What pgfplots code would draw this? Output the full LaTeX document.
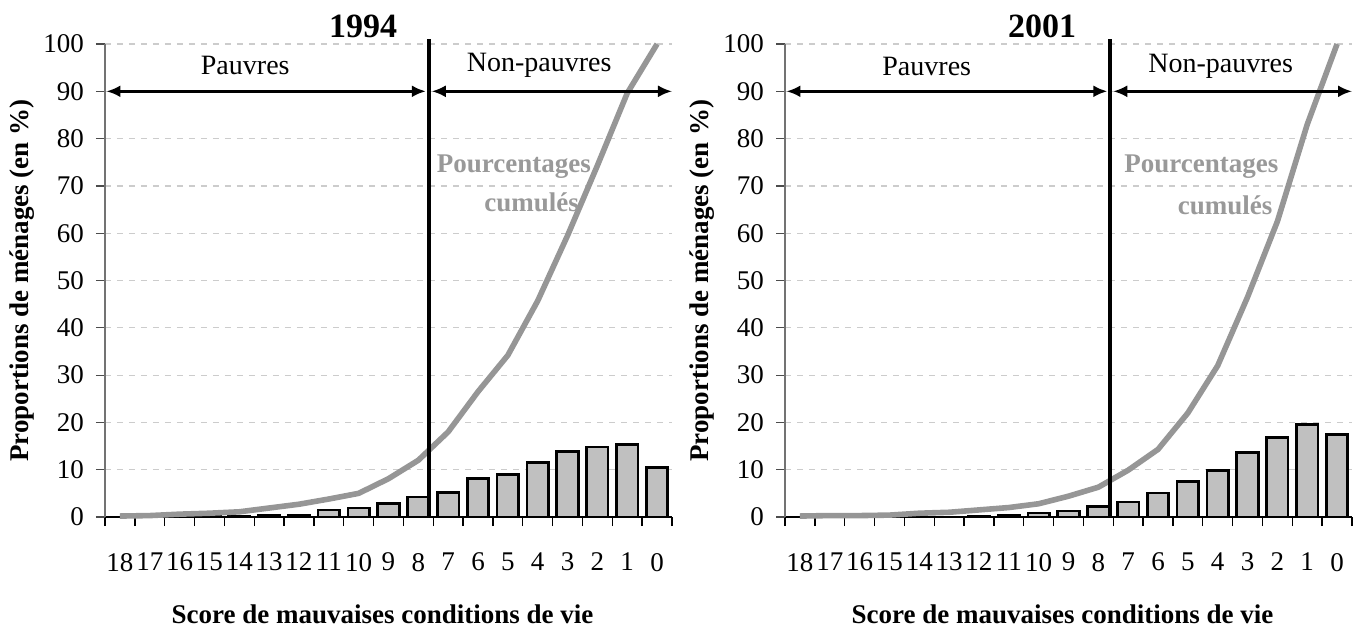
\documentclass[border=0pt]{standalone}
\usepackage{fontspec}
\setmainfont{Liberation Serif}
\usepackage{pgfplots}
\pgfplotsset{compat=1.18}
\usetikzlibrary{arrows.meta}

\definecolor{barfill}{HTML}{C0C0C0}
\definecolor{cumline}{HTML}{969696}
\definecolor{gridc}{HTML}{CCCCCC}
\definecolor{cumtext}{HTML}{999999}

\pgfplotsset{
  panel/.style={
    scale only axis, width=283.5pt, height=236.5pt,
    xmin=-0.5, xmax=18.5, ymin=0, ymax=100,
    clip=false,
    axis x line*=bottom, axis y line*=left,
    x axis line style={black, line width=0.9pt},
    y axis line style={black!55, line width=0.7pt},
    ytick={0,10,...,100},
    xtick={0,...,18},
    xticklabels={18,17,16,15,14,13,12,11,10,9,8,7,6,5,4,3,2,1,0},
    major x tick style={draw=none},
    minor xtick={-0.5,0.5,...,18.5},
    minor x tick style={black, line width=0.7pt},
    ytick style={black!70, line width=0.6pt},
    minor tick length=4.5pt, major tick length=4.5pt,
    tick align=outside,
    ymajorgrids,
    major grid style={gridc, dash pattern=on 3pt off 3pt, line width=0.6pt},
    /pgf/number format/assume math mode=true,
    tick label style={font=\fontsize{13.5}{15}\selectfont},
    xticklabel style={yshift=-10pt},
    yticklabel style={xshift=-2.5pt},
  },
  bars/.style={ybar, bar width=0.72, fill=barfill, draw=black, line width=1.35pt},
  cum/.style={cumline, line width=2.8pt, line join=round, mark=none},
}
\tikzset{
  ann/.style={font=\fontsize{14}{16}\selectfont},
  cumlab/.style={font=\bfseries\fontsize{13.5}{16}\selectfont, text=cumtext},
  lab/.style={font=\bfseries\fontsize{13.5}{16}\selectfont},
  ttl/.style={font=\bfseries\fontsize{17}{20}\selectfont},
  arr/.style={{Latex[length=7pt,width=6pt]}-{Latex[length=7pt,width=6pt]}, line width=1.3pt},
}

\begin{document}
\begin{tikzpicture}
\useasboundingbox (-52.5pt,-55.5pt) rectangle (628pt,258.5pt);

% ---------------- 1994 ----------------
\begin{axis}[panel, at={(0pt,0pt)}, anchor=south west]
\addplot[bars] coordinates {
(3,0.1) (4,0.2) (5,0.4) (6,0.4) (7,1.5) (8,1.9) (9,2.9) (10,4.2)
(11,5.2) (12,8.1) (13,9.0) (14,11.5) (15,13.8) (16,14.8) (17,15.3) (18,10.5)};
\addplot[cum] coordinates {
(0,0.2) (1,0.3) (2,0.6) (3,0.8) (4,1.1) (5,1.9) (6,2.7) (7,3.8) (8,5.0)
(9,8.1) (10,12.0) (11,18.0) (12,26.5) (13,34.2) (14,45.7) (15,59.5)
(16,74.3) (17,89.6) (18,100)};
\addplot[black, line width=1.8pt, mark=none] coordinates {(10.35,0) (10.35,101)};
\draw[arr] (axis cs:-0.45,90) -- (axis cs:10.25,90);
\draw[arr] (axis cs:10.45,90) -- (axis cs:18.5,90);
\node[ann] at (axis cs:4.2,95.4) {Pauvres};
\node[ann] at (axis cs:14.05,95.4) {Non-pauvres};
\node[cumlab] at (axis cs:13.2,74.1) {Pourcentages};
\node[cumlab] at (axis cs:13.8,66.5) {cumulés};
\node[ttl] at (axis cs:8.15,103.8) {1994};
\node[lab] at (axis cs:8.8,-20.5) {Score de mauvaises conditions de vie};
\node[lab, rotate=90] at (axis cs:-3.28,50) {Proportions de ménages (en \%)};
\end{axis}

% ---------------- 2001 ----------------
\begin{axis}[panel, at={(340pt,0pt)}, anchor=south west]
\addplot[bars] coordinates {
(6,0.1) (7,0.4) (8,0.85) (9,1.3) (10,2.25) (11,3.2) (12,5.1) (13,7.5)
(14,9.8) (15,13.6) (16,16.8) (17,19.6) (18,17.4)};
\addplot[cum] coordinates {
(0,0.2) (1,0.3) (2,0.3) (3,0.4) (4,0.8) (5,1.0) (6,1.5) (7,2.0) (8,2.8)
(9,4.4) (10,6.3) (11,9.9) (12,14.3) (13,22.0) (14,32.0) (15,46.5)
(16,62.5) (17,83.0) (18,100)};
\addplot[black, line width=1.8pt, mark=none] coordinates {(10.4,0) (10.4,101)};
\draw[arr] (axis cs:-0.45,90) -- (axis cs:10.3,90);
\draw[arr] (axis cs:10.5,90) -- (axis cs:18.5,90);
\node[ann] at (axis cs:4.25,95.3) {Pauvres};
\node[ann] at (axis cs:14.1,95.3) {Non-pauvres};
\node[cumlab] at (axis cs:13.45,74.0) {Pourcentages};
\node[cumlab] at (axis cs:14.25,65.9) {cumulés};
\node[ttl] at (axis cs:8.12,103.8) {2001};
\node[lab] at (axis cs:8.8,-20.5) {Score de mauvaises conditions de vie};
\node[lab, rotate=90] at (axis cs:-3.28,50) {Proportions de ménages (en \%)};
\end{axis}
\end{tikzpicture}
\end{document}
